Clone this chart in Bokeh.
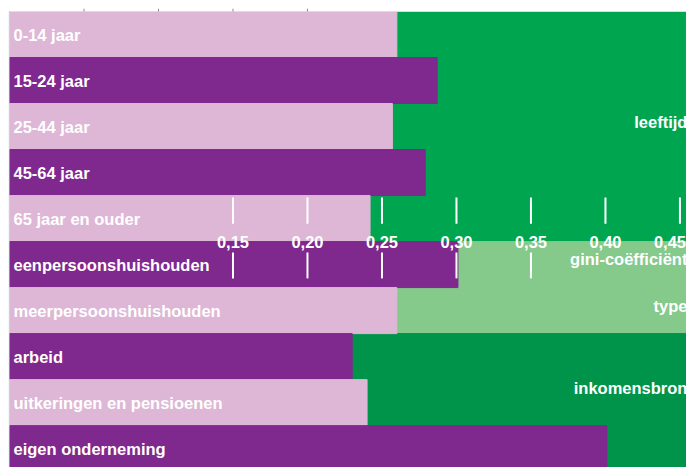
from bokeh.plotting import figure
from bokeh.models import ColumnDataSource, Range1d
from bokeh.core.properties import value
from bokeh.embed import file_html
from bokeh.resources import INLINE

# ---- data ----
categories = ["0-14 jaar", "15-24 jaar", "25-44 jaar", "45-64 jaar", "65 jaar en ouder",
              "eenpersoonshuishouden", "meerpersoonshuishouden",
              "arbeid", "uitkeringen en pensioenen", "eigen onderneming"]
gini = [0.260, 0.287, 0.257, 0.279, 0.242, 0.301, 0.260, 0.230, 0.240, 0.401]
groups = ["leeftijd", "type", "inkomensbron"]
group_first = [0, 5, 7]
group_last = [4, 6, 9]
tick_values = [0.15, 0.20, 0.25, 0.30, 0.35, 0.40, 0.45]
tick_labels = ["0,15", "0,20", "0,25", "0,30", "0,35", "0,40", "0,45"]
top_tick_values = [0.05, 0.10, 0.15, 0.20]
axis_title = "gini-coëfficiënt"

# ---- style / layout ----
PINK = "#DDB7D5"
PURPLE = "#7F288E"
GROUP_COLORS = ["#00A550", "#85C98B", "#00944A"]
FONT = value("Liberation Sans")
FS = "16.5px"

rows = list(range(len(categories)))
bar_colors = [PINK if i % 2 == 0 else PURPLE for i in rows]

TOP = -0.5
TOP_EXTRA = TOP - 3 / 46.0
RIGHT_TEXT = 0.455

p = figure(width=686, height=467, output_backend="svg", toolbar_location=None,
           x_range=Range1d(-1 / 1490.0, 0.4544), y_range=Range1d(9.41, TOP_EXTRA),
           min_border=0, min_border_left=8, min_border_top=8)
p.xaxis.visible = False
p.yaxis.visible = False
p.grid.visible = False
p.outline_line_color = None
p.background_fill_color = "white"

# group backgrounds
gsrc = ColumnDataSource(dict(
    y=[(a + b) / 2 for a, b in zip(group_first, group_last)],
    h=[b - a + 1 for a, b in zip(group_first, group_last)],
    color=GROUP_COLORS, name=groups))
p.hbar(y="y", height="h", left=0, right=1, color="color", source=gsrc)

# bars
src = ColumnDataSource(dict(y=rows, v=gini, c=bar_colors, lab=categories))
p.hbar(y="y", height=1, left=0, right="v", color="c", source=src)

# thin frame lines top / left
p.segment(x0=[0], x1=[1], y0=[TOP], y1=[TOP], line_color="#d3e2e0", line_width=1)
p.segment(x0=[-0.5 / 1490.0], x1=[-0.5 / 1490.0], y0=[TOP], y1=[20], line_color="#d3e2e0", line_width=1)

# small top ticks
p.segment(x0=top_tick_values, x1=top_tick_values,
          y0=[TOP_EXTRA] * len(top_tick_values), y1=[TOP] * len(top_tick_values),
          line_color="#8a8a8a", line_width=1)

# bar labels
p.text(x=0, y="y", text="lab", source=src, x_offset=4, text_color="white",
       text_font=FONT, text_font_style="bold", text_font_size=FS,
       text_baseline="middle", text_align="left")

# group labels
group_label_rows = [1.91, 5.90, 7.68]
p.text(x=[RIGHT_TEXT] * 3, y=group_label_rows, text=groups, text_color="white",
       text_font=FONT, text_font_style="bold", text_font_size=FS,
       text_baseline="middle", text_align="right")

# middle axis
p.segment(x0=tick_values, x1=tick_values, y0=[3.54] * len(tick_values), y1=[4.11] * len(tick_values),
          line_color="white", line_width=2)
lower = tick_values[:5]
p.segment(x0=lower, x1=lower, y0=[4.74] * len(lower), y1=[5.30] * len(lower),
          line_color="white", line_width=2)
label_shift = [0] * (len(tick_values) - 1) + [-10]
tsrc = ColumnDataSource(dict(x=tick_values, y=[4.50] * len(tick_values), t=tick_labels, dx=label_shift))
p.text(x="x", y="y", text="t", x_offset="dx", source=tsrc, text_color="white",
       text_font=FONT, text_font_style="bold", text_font_size=FS,
       text_baseline="middle", text_align="center")
p.text(x=[RIGHT_TEXT], y=[4.87], text=[axis_title], text_color="white",
       text_font=FONT, text_font_style="bold", text_font_size=FS,
       text_baseline="middle", text_align="right")

open("out.html", "w").write(file_html(p, INLINE))
